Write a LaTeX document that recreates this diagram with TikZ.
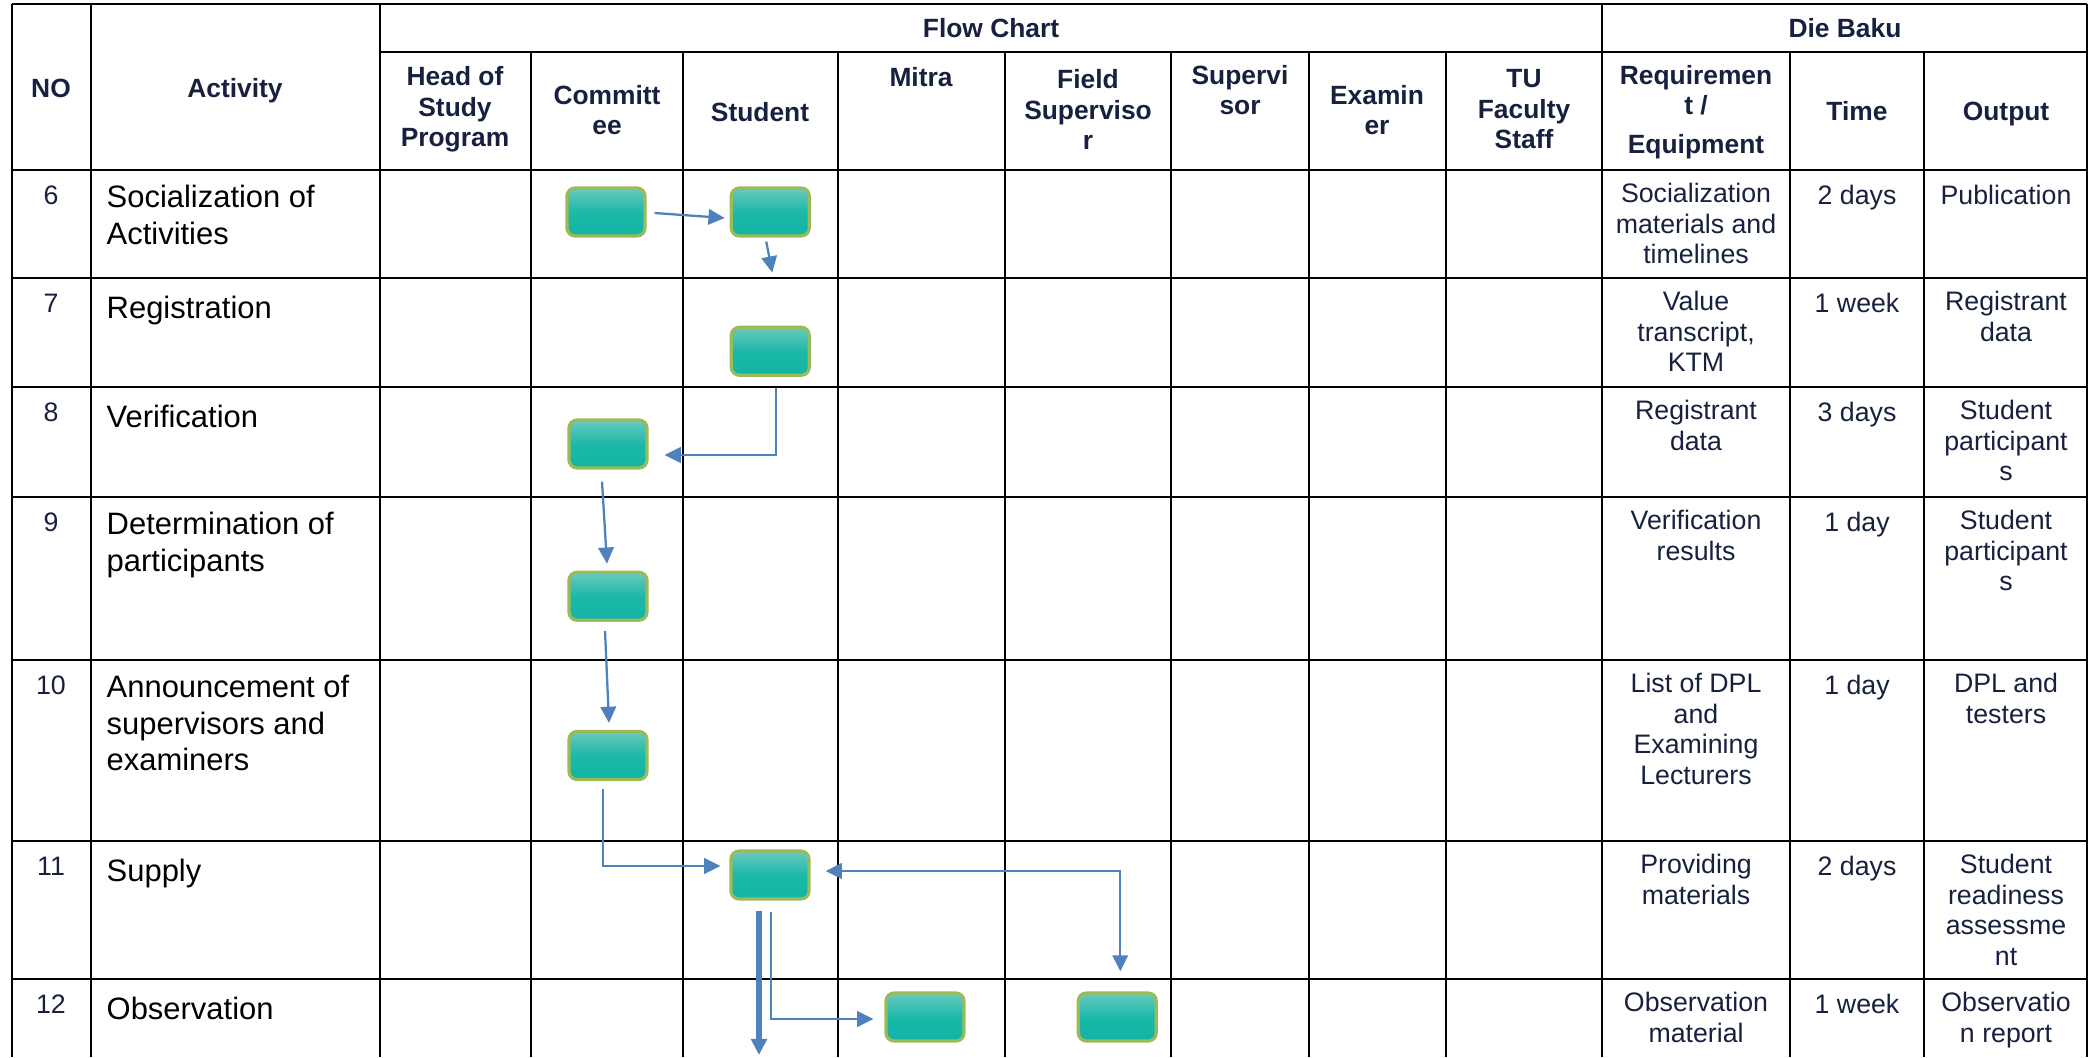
\documentclass[tikz,border=0pt]{standalone}
\usepackage{fontspec}
\setmainfont{Liberation Sans}
\usepackage{tikz}
\usetikzlibrary{arrows.meta,positioning,calc}
\definecolor{ink}{HTML}{17213F}
\definecolor{flowblue}{HTML}{4F81BD}
\definecolor{olive}{HTML}{9BBB59}
\definecolor{tealtop}{HTML}{6ACABF}
\definecolor{tealmid}{HTML}{1CB8A8}
\definecolor{tealbot}{HTML}{12B4A5}
\tikzset{
  gridline/.style={line width=0.6pt, black},
  % text nodes are placed at the baseline of their first line
  headtext/.style={
    font=\bfseries\fontsize{7.5}{8.7}\selectfont, text=ink,
    align=center, anchor=north, yshift=6.09pt, inner sep=0pt,
    execute at begin node=\strut
  },
  celltext/.style={
    font=\fontsize{7.6}{8.7}\selectfont, text=ink,
    align=center, anchor=north, yshift=6.09pt, inner sep=0pt,
    execute at begin node=\strut
  },
  acttext/.style={
    font=\fontsize{8.8}{10.4}\selectfont, text=black,
    align=left, anchor=north west, yshift=7.28pt, inner sep=0pt,
    execute at begin node=\strut
  },
  flowbox/.style={
    rectangle, rounded corners=2.3pt, draw=olive, line width=0.9pt,
    top color=tealtop, bottom color=tealbot, middle color=tealmid,
    minimum width=0.78cm, minimum height=0.48cm, inner sep=0pt
  },
  flowarrow/.style={
    -{Triangle[length=4.6pt,width=4.4pt]}, line width=0.65pt, draw=#1
  },
  flowarrow/.default=flowblue,
}

\begin{document}
\begin{tikzpicture}[x=0.01cm, y=-0.01cm]
\useasboundingbox (0,0) rectangle (2092,1057);

% TABLE RULES
\draw[gridline] (12,4) -- (2087,4);
\draw[gridline] (380,52) -- (2087,52);
\foreach \y in {170,278,387,497,660,841,979}
  \draw[gridline] (12,\y) -- (2087,\y);
\foreach \x in {12,91,380,1602,2087}
  \draw[gridline] (\x,4) -- (\x,1057);
\foreach \x in {531,683,838,1005,1171,1309,1446,1790,1924}
  \draw[gridline] (\x,52) -- (\x,1057);

% HEADER
\node[headtext] (hno) at (51,97) {NO};
\node[headtext] (hact) at (235,97) {Activity};
\node[headtext] (hflow) at (991,37) {Flow Chart};
\node[headtext] (hdie) at (1845,37) {Die Baku};
\node[headtext] (hhead) at (455,87) {Head of\\Study\\Program};
\node[headtext] (hcomm) at (607,106) {Committ\\ee};
\node[headtext] (hstud) at (760,121) {Student};
\node[headtext] (hmitra) at (921,86) {Mitra};
\node[headtext] (hfield) at (1088,90) {Field\\Superviso\\r};
\node[headtext] (hsup) at (1240,86) {Supervi\\sor};
\node[headtext] (hexam) at (1377,106) {Examin\\er};
\node[headtext] (htu) at (1524,90) {TU\\Faculty\\Staff};
\node[headtext] (hreq) at (1696,86) {Requiremen\\t /\\[2.2pt]Equipment};
\node[headtext] (htime) at (1857,120) {Time};
\node[headtext] (hout) at (2006,120) {Output};

% ROW 6
\node[celltext] (no6) at (51,204) {6};
\node[acttext] (act6) at (106,210) {Socialization of\\Activities};
\node[celltext] (req6) at (1696,204) {Socialization\\materials and\\timelines};
\node[celltext] (time6) at (1857,204) {2 days};
\node[celltext] (out6) at (2006,204) {Publication};

% ROW 7
\node[celltext] (no7) at (51,312) {7};
\node[acttext] (act7) at (106,318) {Registration};
\node[celltext] (req7) at (1696,312) {Value\\transcript,\\KTM};
\node[celltext] (time7) at (1857,312) {1 week};
\node[celltext] (out7) at (2006,312) {Registrant\\data};

% ROW 8
\node[celltext] (no8) at (51,421) {8};
\node[acttext] (act8) at (106,427) {Verification};
\node[celltext] (req8) at (1696,421) {Registrant\\data};
\node[celltext] (time8) at (1857,421) {3 days};
\node[celltext] (out8) at (2006,421) {Student\\participant\\s};

% ROW 9
\node[celltext] (no9) at (51,531) {9};
\node[acttext] (act9) at (106,537) {Determination of\\participants};
\node[celltext] (req9) at (1696,531) {Verification\\results};
\node[celltext] (time9) at (1857,531) {1 day};
\node[celltext] (out9) at (2006,531) {Student\\participant\\s};

% ROW 10
\node[celltext] (no10) at (51,694) {10};
\node[acttext] (act10) at (106,700) {Announcement of\\supervisors and\\examiners};
\node[celltext] (req10) at (1696,694) {List of DPL\\and\\Examining\\Lecturers};
\node[celltext] (time10) at (1857,694) {1 day};
\node[celltext] (out10) at (2006,694) {DPL and\\testers};

% ROW 11
\node[celltext] (no11) at (51,875) {11};
\node[acttext] (act11) at (106,881) {Supply};
\node[celltext] (req11) at (1696,875) {Providing\\materials};
\node[celltext] (time11) at (1857,875) {2 days};
\node[celltext] (out11) at (2006,875) {Student\\readiness\\assessme\\nt};

% ROW 12
\node[celltext] (no12) at (51,1013) {12};
\node[acttext] (act12) at (106,1019) {Observation};
\node[celltext] (req12) at (1696,1013) {Observation\\material};
\node[celltext] (time12) at (1857,1013) {1 week};
\node[celltext] (out12) at (2006,1013) {Observatio\\n report};

% FLOW BOXES
\node[flowbox] (soc) at (606,212) {};
\node[flowbox, right=0.83cm of soc] (socstud) {};
\node[flowbox, below=0.88cm of socstud] (reg) {};
\node[flowbox] (ver) at (608,444) {};
\node[flowbox, below=1.01cm of ver] (det) {};
\node[flowbox, below=1.08cm of det] (ann) {};
\node[flowbox] (supply) at (770,875) {};
\node[flowbox] (obsmitra) at (925,1017) {};
\node[flowbox, right=1.11cm of obsmitra] (obsfield) {};

% Flow connectors
\draw[flowarrow] ($(soc.east)+(8,1)$) -- ($(socstud.west)+(-5,6)$);
\coordinate (regin) at ($(socstud.south)+(2,35)$);
\draw[flowarrow] ($(socstud.south)+(-4,4)$) -- (regin);
\draw[flowarrow] ($(reg.south)+(6,11)$) |- ($(ver.east)+(16,11)$);
\draw[flowarrow] ($(ver.south)+(-6,12)$) -- ($(det.north)+(-1,-7)$);
\draw[flowarrow] ($(det.south)+(-3,9)$) -- ($(ann.north)+(1,-7)$);
\draw[flowarrow] ($(ann.south)+(-5,8)$) |- ($(supply.west)+(-9,-9)$);
\draw[flowarrow, {Triangle[length=4.6pt,width=4.4pt]}-{Triangle[length=4.6pt,width=4.4pt]}]
  ($(supply.east)+(15,-4)$) -| ($(obsfield.north)+(3,-20)$);
\draw[flowarrow] ($(supply.south)+(1,11)$) |- ($(obsmitra.west)+(-11,2)$);

% Continuation to next row
\coordinate (nextrow) at (759,1055);
\draw[flowarrow, line width=1.5pt] ($(supply.south)+(-11,10)$) -- (nextrow);

\end{tikzpicture}
\end{document}
